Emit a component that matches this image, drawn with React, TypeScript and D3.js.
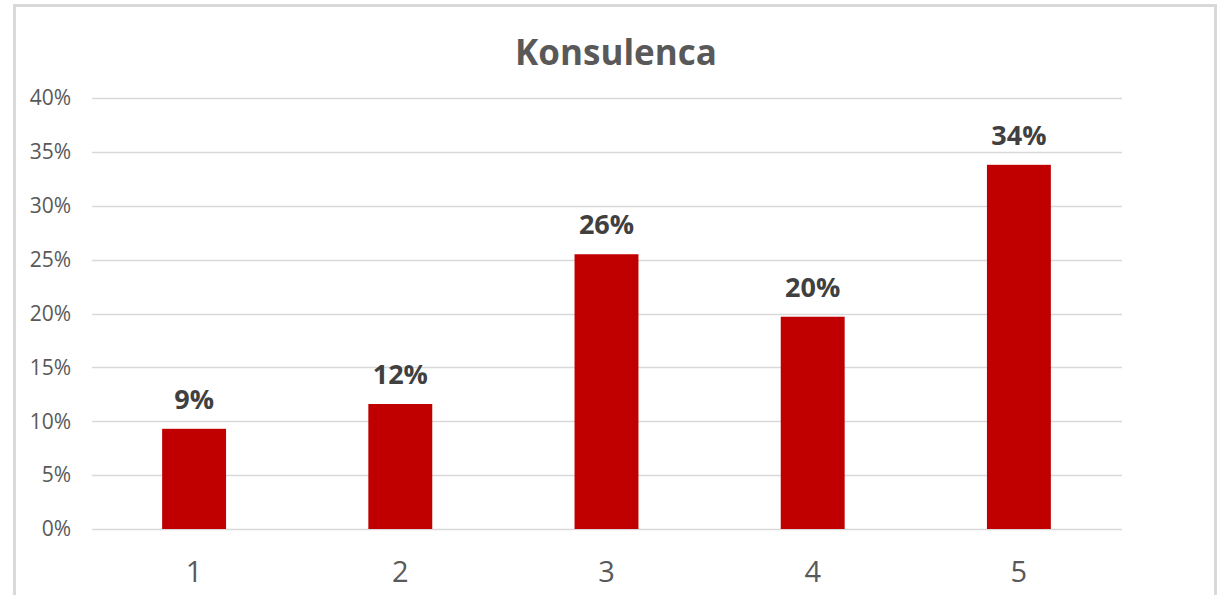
import React from "react";
import * as d3 from "d3";

const title = "Konsulenca";
const categories = ["1", "2", "3", "4", "5"];
const values = [0.093, 0.116, 0.255, 0.197, 0.338];
const labels = ["9%", "12%", "26%", "20%", "34%"];
const yTicks = [0, 0.05, 0.1, 0.15, 0.2, 0.25, 0.3, 0.35, 0.4];

const W = 1225;
const H = 595;
const FONT = "'Open Sans', 'DejaVu Sans', sans-serif";

export default function App() {
  if (typeof document !== "undefined") document.body.style.margin = "0";
  const x = d3.scaleBand<string>().domain(categories).range([91, 1122]).paddingInner(0.69).paddingOuter(0.345);
  const y = d3.scaleLinear().domain([0, 0.4]).range([529, 98]);
  const fmt = d3.format(".0%");
  return (
    <svg width={W} height={H} style={{ display: "block", background: "#fff" }}>
      {/* chart border */}
      <line x1={14.5} y1={5} x2={14.5} y2={H} stroke="#d9d9d9" strokeWidth={3} />
      <line x1={13} y1={5.5} x2={1217} y2={5.5} stroke="#d9d9d9" strokeWidth={3} />
      <line x1={1215.5} y1={5} x2={1215.5} y2={H} stroke="#d9d9d9" strokeWidth={3} />
      <text x={616} y={65} textAnchor="middle" fontFamily={FONT} fontWeight={700} fontSize={35} fill="#595959">
        {title}
      </text>
      {yTicks.map((t) => (
        <g key={t}>
          <line x1={92} x2={1122} y1={Math.round(y(t)) + 0.5} y2={Math.round(y(t)) + 0.5} stroke="#d9d9d9" strokeWidth={1.3} />
          <text x={71} y={y(t)} dy="0.35em" textAnchor="end" fontFamily={FONT} fontSize={21} fill="#595959">
            {fmt(t)}
          </text>
        </g>
      ))}
      {categories.map((c, i) => (
        <g key={c}>
          <rect x={x(c)} y={y(values[i])} width={x.bandwidth()} height={y(0) - y(values[i])} fill="#c00000" />
          <text x={(x(c) as number) + x.bandwidth() / 2} y={y(values[i]) - 20} textAnchor="middle" fontFamily={FONT} fontWeight={700} fontSize={27} fill="#404040">
            {labels[i]}
          </text>
          <text x={(x(c) as number) + x.bandwidth() / 2} y={582} textAnchor="middle" fontFamily={FONT} fontSize={29} fill="#595959">
            {c}
          </text>
        </g>
      ))}
    </svg>
  );
}
